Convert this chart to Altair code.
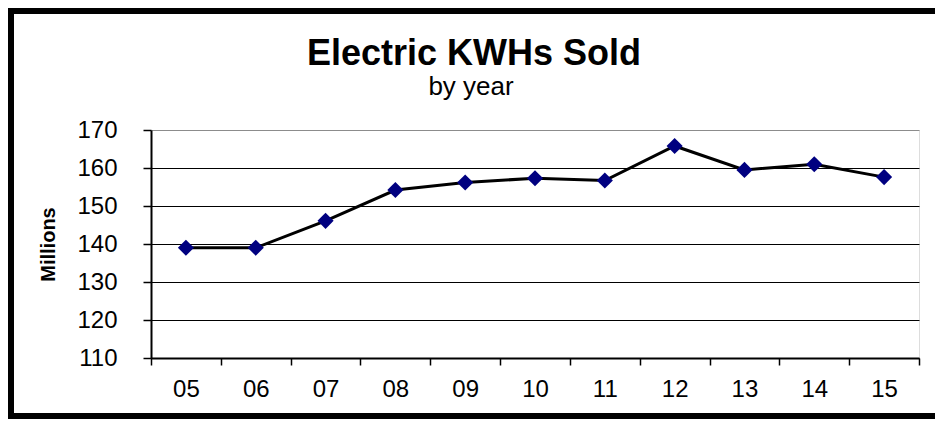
import altair as alt
import pandas as pd

years = ["05", "06", "07", "08", "09", "10", "11", "12", "13", "14", "15"]
kwh_millions = [139.0, 139.0, 146.1, 154.2, 156.2, 157.3, 156.7, 165.8, 159.5, 161.0, 157.6]
y_ticks = [110, 120, 130, 140, 150, 160, 170]
title_text = ["Electric KWHs Sold"]
subtitle_text = ["by year"]

df = pd.DataFrame({"year": years, "kwh": kwh_millions})

FONT = "Liberation Sans"

x_enc = alt.X(
    "year:N",
    sort=years,
    scale=alt.Scale(type="band", paddingInner=0, paddingOuter=0),
    axis=alt.Axis(
        title=None, labelAngle=0, tickBand="extent",
        domainColor="black", domainWidth=2,
        tickColor="black", tickWidth=1.5, tickSize=7,
        labelFont=FONT, labelFontSize=24, labelColor="black", labelPadding=12,
    ),
)
y_enc = alt.Y(
    "kwh:Q",
    scale=alt.Scale(domain=[110, 170], nice=False, zero=False),
    axis=alt.Axis(
        values=y_ticks, title="Millions",
        titleFont=FONT, titleFontSize=20, titleFontWeight="bold", titleColor="black",
        titlePadding=18,
        labelFont=FONT, labelFontSize=24, labelColor="black", labelPadding=26,
        tickColor="black", tickWidth=1.5, tickSize=8,
        domainColor="black", domainWidth=2,
        grid=True, gridWidth=1.2,
        gridColor=alt.condition("datum.value >= 170", alt.value("#8c8c8c"), alt.value("black")),
    ),
)

frame = alt.Chart(alt.Data(values=[{"f": 1}])).mark_rect(
    fillOpacity=0, stroke="black", strokeWidth=6
).encode(
    x=alt.value(-140), x2=alt.value(900), y=alt.value(-119), y2=alt.value(286)
)

title = alt.Chart(alt.Data(values=[{"t": t} for t in title_text])).mark_text(
    font=FONT, fontSize=36, fontWeight="bold", color="black",
    align="center", baseline="alphabetic",
).encode(text="t:N", x=alt.value(323), y=alt.value(-65))

subtitle = alt.Chart(alt.Data(values=[{"t": t} for t in subtitle_text])).mark_text(
    font=FONT, fontSize=26, color="black",
    align="center", baseline="alphabetic",
).encode(text="t:N", x=alt.value(320), y=alt.value(-35))

line = alt.Chart(df).mark_line(color="black", strokeWidth=3).encode(x=x_enc, y=y_enc)
points = alt.Chart(df).mark_point(
    shape="diamond", filled=True, color="#000080", size=260, opacity=1
).encode(x=x_enc, y=y_enc)

chart = alt.layer(line, points, frame, title, subtitle).properties(
    width=768,
    height=228,
    autosize="none",
    padding={"left": 143, "top": 122, "right": 16, "bottom": 61},
).configure_view(stroke="#8c8c8c", strokeWidth=3).configure(background="white")

chart.save("out.html", embed_options={"renderer": "svg", "actions": False})
